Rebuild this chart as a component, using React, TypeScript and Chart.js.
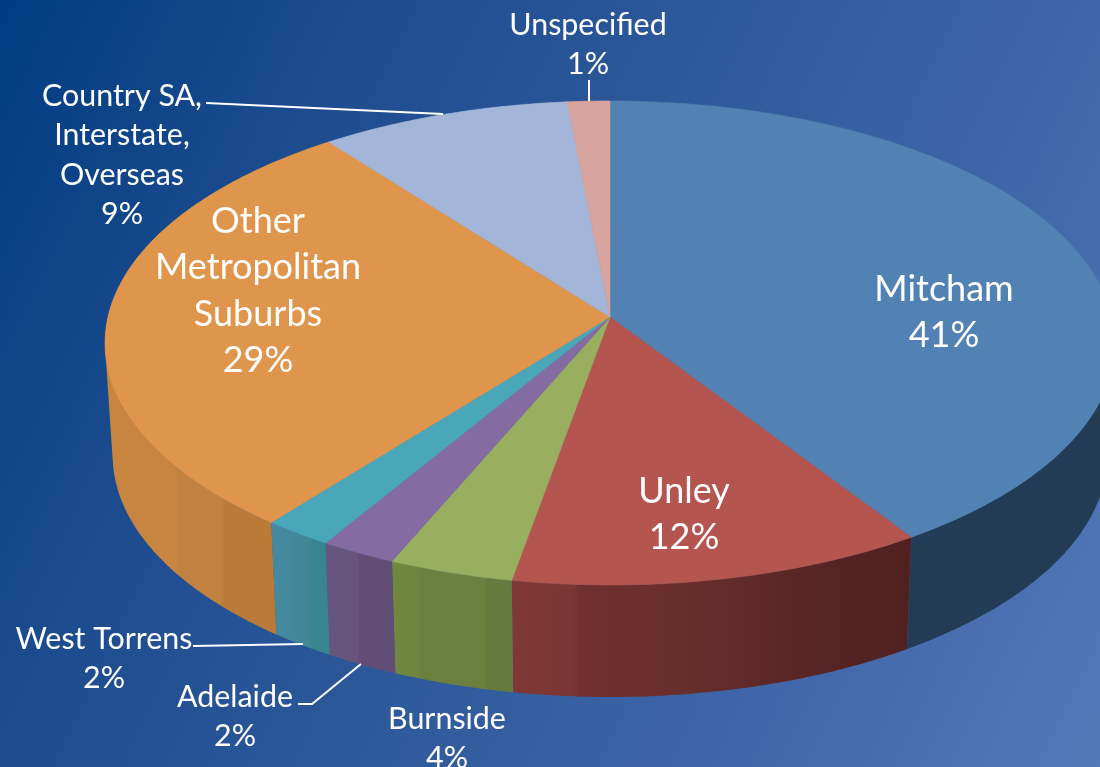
import React, { useEffect, useRef } from "react";
import { Chart, registerables } from "chart.js";

Chart.register(...registerables);

const categories = ["Mitcham", "Unley", "Burnside", "Adelaide", "West Torrens", "Other Metropolitan Suburbs", "Country SA, Interstate, Overseas", "Unspecified"];
const shares = [40.8, 12.0, 3.6, 2.2, 2.0, 29.0, 8.9, 1.5];
const percentLabels = ["41%", "12%", "4%", "2%", "2%", "29%", "9%", "1%"];
const topColors = ["#5282b4", "#b45550", "#9aae5f", "#846ca3", "#4aa7ba", "#df964c", "#a3b5d8", "#d8a4a0"];
const wallStops = [
  [[0, "#213c54"], [1, "#213c54"]],
  [[0, "#7e3836"], [0.15, "#7a3634"], [0.17, "#6f302e"], [0.4, "#6a2f2d"], [0.7, "#5a2725"], [1, "#50211f"]],
  [[0, "#70873f"], [0.2, "#6f853f"], [0.23, "#6b7f3f"], [0.75, "#6b7f3f"], [0.78, "#667a40"], [1, "#667a40"]],
  [[0, "#66557c"], [0.43, "#66547a"], [0.45, "#624d75"], [1, "#624d75"]],
  [[0, "#44899f"], [0.6, "#418695"], [0.7, "#38848f"], [1, "#38848f"]],
  [[0, "#c8853f"], [0.38, "#c8853f"], [0.4, "#c2823f"], [0.66, "#c18240"], [0.69, "#ba7a38"], [1, "#bb7a38"]],
  [[0, "#6e7c98"], [1, "#6e7c98"]],
  [[0, "#977270"], [1, "#977270"]],
];

const SIZE_BIG = 36;
const SIZE_SMALL = 30.4;
const labelLayout = [
  { lines: ["Mitcham"], x: 944, y: 289, big: true },
  { lines: ["Unley"], x: 684, y: 491, big: true },
  { lines: ["Burnside"], x: 447, y: 719, big: false },
  { lines: ["Adelaide"], x: 235, y: 697, big: false },
  { lines: ["West Torrens"], x: 104, y: 639, big: false },
  { lines: ["Other", "Metropolitan", "Suburbs"], x: 258, y: 221, big: true },
  { lines: ["Country SA,", "Interstate,", "Overseas"], x: 122, y: 96, big: false },
  { lines: ["Unspecified"], x: 588, y: 25, big: false },
];
const leaders = [
  [[206, 103], [443, 114]],
  [[589, 80], [589, 101]],
  [[193, 646], [303, 644]],
  [[298, 704], [312, 704], [361, 664]],
];

// projection of the pie's disc on to the page
const CX = 610, CY = 317, BX = 502, BY = 239.2, PERSP = -0.1074, DEPTH = 112, SHRINK = 0.985;
const top = (a: number) => {
  const u = Math.cos(a), v = Math.sin(a), w = 1 + PERSP * v;
  return [CX + (BX * u) / w, CY + (BY * v) / w];
};
const bottom = (a: number) => {
  const [x, y] = top(a);
  return [CX + (x - CX) * SHRINK, y + DEPTH];
};
const sweep = (s: number, e: number) => {
  const n = Math.max(2, Math.ceil((e - s) / 0.01));
  const out: number[] = [];
  for (let i = 0; i <= n; i++) out.push(s + ((e - s) * i) / n);
  return out;
};
const area = (q: number[][]) => {
  let s = 0;
  q.forEach((p, i) => {
    const n = q[(i + 1) % q.length];
    s += p[0] * n[1] - n[0] * p[1];
  });
  return s;
};

const pie3d = {
  id: "pie3d",
  beforeDraw(chart: any) {
    const { ctx, width, height } = chart;
    const g = ctx.createLinearGradient(0, 0, 1194, 571);
    g.addColorStop(0, "rgb(0,60,130)");
    g.addColorStop(0.26, "rgb(30,77,143)");
    g.addColorStop(0.75, "rgb(63,102,168)");
    g.addColorStop(1, "rgb(84,121,185)");
    ctx.fillStyle = g;
    ctx.fillRect(0, 0, width, height);
  },
  beforeDatasetsDraw(chart: any) {
    const { ctx } = chart;
    const arcs = chart.getDatasetMeta(0).data;
    ctx.save();
    // walls: one quad per step, all wound the same way so the fold at the silhouette stays filled
    arcs.forEach((arc: any, i: number) => {
      const angles = sweep(arc.startAngle, arc.endAngle);
      const xsFront = angles.filter((a) => Math.sin(a) > 0).map((a) => bottom(a)[0]);
      const xs = xsFront.length > 1 ? xsFront : angles.map((a) => top(a)[0]);
      const g = ctx.createLinearGradient(Math.min(...xs), 0, Math.max(...xs), 0);
      wallStops[i].forEach(([o, c]) => g.addColorStop(o as number, c as string));
      ctx.beginPath();
      for (let k = 0; k < angles.length - 1; k++) {
        const q = [top(angles[k]), top(angles[k + 1]), bottom(angles[k + 1]), bottom(angles[k])];
        if (area(q) < 0) q.reverse();
        q.forEach((p, m) => (m ? ctx.lineTo(p[0], p[1]) : ctx.moveTo(p[0], p[1])));
        ctx.closePath();
      }
      ctx.fillStyle = g;
      ctx.fill();
    });
    // top faces
    arcs.forEach((arc: any) => {
      const color = arc.options.backgroundColor;
      ctx.beginPath();
      ctx.moveTo(CX, CY);
      sweep(arc.startAngle, arc.endAngle).map(top).forEach((p) => ctx.lineTo(p[0], p[1]));
      ctx.closePath();
      ctx.fillStyle = color;
      ctx.strokeStyle = color;
      ctx.lineWidth = 0.6;
      ctx.fill();
      ctx.stroke();
    });
    ctx.restore();
    return false;
  },
  afterDraw(chart: any) {
    const { ctx } = chart;
    ctx.save();
    ctx.strokeStyle = "#ffffff";
    ctx.lineWidth = 2;
    leaders.forEach((line) => {
      ctx.beginPath();
      line.forEach((p, k) => (k ? ctx.lineTo(p[0], p[1]) : ctx.moveTo(p[0], p[1])));
      ctx.stroke();
    });
    ctx.fillStyle = "#ffffff";
    ctx.textAlign = "center";
    ctx.textBaseline = "middle";
    labelLayout.forEach((l, i) => {
      ctx.font = `${l.big ? SIZE_BIG : SIZE_SMALL}px Lato`;
      const step = l.big ? 46.5 : 39.5;
      [...l.lines, percentLabels[i]].forEach((t, k) => ctx.fillText(t, l.x, l.y + k * step));
    });
    ctx.restore();
  },
};

export default function App() {
  const ref = useRef<HTMLCanvasElement | null>(null);
  useEffect(() => {
    document.body.style.margin = "0";
    const chart = new Chart(ref.current as HTMLCanvasElement, {
      type: "pie",
      data: {
        labels: categories,
        datasets: [{ data: shares, backgroundColor: topColors, borderWidth: 0 }],
      },
      options: {
        responsive: false,
        animation: false,
        plugins: { legend: { display: false }, tooltip: { enabled: false } },
      },
      plugins: [pie3d],
    } as any);
    return () => chart.destroy();
  }, []);
  return <canvas ref={ref} width={1100} height={767} style={{ display: "block" }} />;
}
